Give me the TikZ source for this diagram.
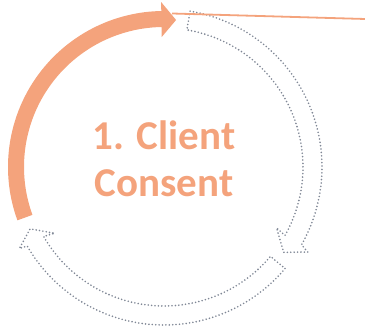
\documentclass[tikz,border=0pt]{standalone}
\usepackage{fontspec}
\setmainfont{Carlito}
\definecolor{orangec}{RGB}{244,163,124}
\definecolor{dotgray}{RGB}{128,136,150}
\tikzset{
  dotarrow/.style={draw=dotgray, line width=1.8pt, line cap=round, dash pattern=on 0pt off 3.4pt, line join=round},
  orangefill/.style={fill=orangec, draw=none},
  lbl/.style={text=orangec, font=\bfseries\fontsize{41}{47}\selectfont, align=center, inner sep=0pt}
}
\begin{document}
\begin{tikzpicture}[x=1pt,y=1pt]
\useasboundingbox (0,0) rectangle (365,328);
\coordinate (C) at (164,161);
% orange block arc
\path[orangefill] ([shift={(200:156)}]C) arc[start angle=200,end angle=91,radius=156]
  -- ([shift={(91:165)}]C) -- ([shift={(85.3:147.5)}]C) -- ([shift={(91:130)}]C)
  -- ([shift={(91:140)}]C) arc[start angle=91,end angle=200,radius=140] -- cycle;
% dotted arrow right
\draw[dotarrow] ([shift={(80.5:158)}]C) arc[start angle=80.5,end angle=-29.5,radius=158]
  -- ([shift={(-30.6:167)}]C) -- ([shift={(-35.5:147)}]C) -- ([shift={(-28.4:128)}]C)
  -- ([shift={(-29.5:139)}]C) arc[start angle=-29.5,end angle=80.5,radius=139] -- cycle;
% dotted arrow bottom
\draw[dotarrow] ([shift={(-40:158)}]C) arc[start angle=-40,end angle=-150,radius=158]
  -- ([shift={(-150.6:166)}]C) -- ([shift={(-155.2:147.5)}]C) -- ([shift={(-148.8:128)}]C)
  -- ([shift={(-150:139)}]C) arc[start angle=-150,end angle=-40,radius=139] -- cycle;
% top line
\coordinate (la) at (172,314.5);
\coordinate (lb) at (365,309);
\draw[orangec, line width=1.8pt] (la) -- (lb);
% label
\node[lbl] (t) at (164,169) {1. Client\\Consent};
\end{tikzpicture}
\end{document}
